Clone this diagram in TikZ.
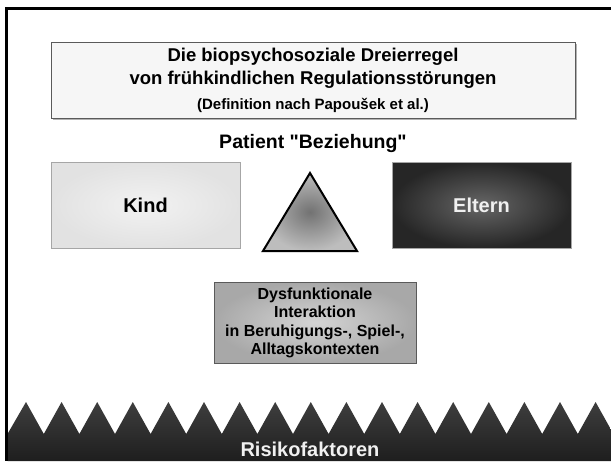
\documentclass[tikz,border=0pt]{standalone}
\usepackage{fontspec}
\setmainfont{Liberation Sans}
\newfontfamily\plainsans{Liberation Sans}[Ligatures=ResetAll]
\usetikzlibrary{shadings}
\definecolor{framec}{HTML}{000000}
\definecolor{boxline}{HTML}{5A5A5A}
\definecolor{titlefill}{HTML}{F6F6F6}
\definecolor{kindin}{HTML}{F2F2F2}
\definecolor{kindout}{HTML}{E2E2E2}
\definecolor{eltin}{HTML}{666666}
\definecolor{eltout}{HTML}{262626}
\definecolor{triin}{HTML}{727272}
\definecolor{triout}{HTML}{BDBDBD}
\definecolor{dysin}{HTML}{D4D4D4}
\definecolor{dysout}{HTML}{A8A8A8}
\definecolor{bandtop}{HTML}{3E3E3E}
\definecolor{bandbot}{HTML}{1E1E1E}
\tikzset{
  boxnode/.style={rectangle, draw=boxline, line width=1pt, inner sep=0pt},
  lbl/.style={font=\bfseries, inner sep=0pt, align=center},
}
\begin{document}
\begin{tikzpicture}[x=1pt,y=-1pt]
\useasboundingbox (0,0) rectangle (611,461);
\fill[white] (0,0) rectangle (611,461);
% title box
\fill[gray!60] (53,44) rectangle (577,120);
\node[boxnode, fill=titlefill, minimum width=524pt, minimum height=76pt] (title) at (313,80) {};
\node[lbl, font=\bfseries\fontsize{18.5}{22}\selectfont] (t1) at (313,57) {Die biopsychosoziale Dreierregel};
\node[lbl, font=\bfseries\fontsize{18.5}{22}\selectfont] (t2) at (313,80) {von frühkindlichen Regulationsstörungen};
\node[lbl, font=\bfseries\fontsize{15}{18}\selectfont] (t3) at (313,105) {(Definition nach Papoušek et al.)};
% patient
\node[lbl, font=\plainsans\bfseries\fontsize{19.5}{23}\selectfont] (pat) at (313,143) {Patient "Beziehung"};
% Kind
\node[boxnode, draw=gray!70, inner color=kindin, outer color=kindout, minimum width=189pt, minimum height=86pt] (kind) at (145.5,205) {};
\node[lbl, font=\bfseries\fontsize{20}{24}\selectfont] at (kind) {Kind};
% Eltern
\node[boxnode, draw=gray!70, inner color=eltin, outer color=eltout, minimum width=179pt, minimum height=86pt] (eltern) at (481.5,205) {};
\node[lbl, text=white!94!black, font=\bfseries\fontsize{20}{24}\selectfont] at (eltern) {Eltern};
% triangle
\coordinate (ta) at (310,173);
\coordinate (tb) at (263,251);
\coordinate (tc) at (357,251);
\shade[inner color=triin, outer color=triout] (ta) -- (tb) -- (tc) -- cycle;
\draw[line width=2pt, line join=miter] (ta) -- (tb) -- (tc) -- cycle;
% Dysfunktionale
\node[boxnode, inner color=dysin, outer color=dysout, minimum width=202pt, minimum height=81pt] (dys) at (315,322.5) {};
\node[lbl, font=\bfseries\fontsize{16}{18.5}\selectfont] at (315,323) {Dysfunktionale\\Interaktion\\in Beruhigungs-, Spiel-,\\Alltagskontexten};
% band
\begin{scope}
\clip (0,0) rectangle (611,461);
\shade[top color=bandtop, bottom color=bandbot] (7.5,461) -- (7.5,434)
  \foreach \k in {0,...,16}{ -- ({26+35.6*\k},402) -- ({43.8+35.6*\k},434) } -- (614,461) -- cycle;
\end{scope}
\node[lbl, text=white!94!black, font=\bfseries\fontsize{20}{24}\selectfont] (risk) at (310,449) {Risikofaktoren};
% frame
\draw[framec, line width=3pt] (611,8) -- (6,8) -- (6,461);
\end{tikzpicture}
\end{document}
